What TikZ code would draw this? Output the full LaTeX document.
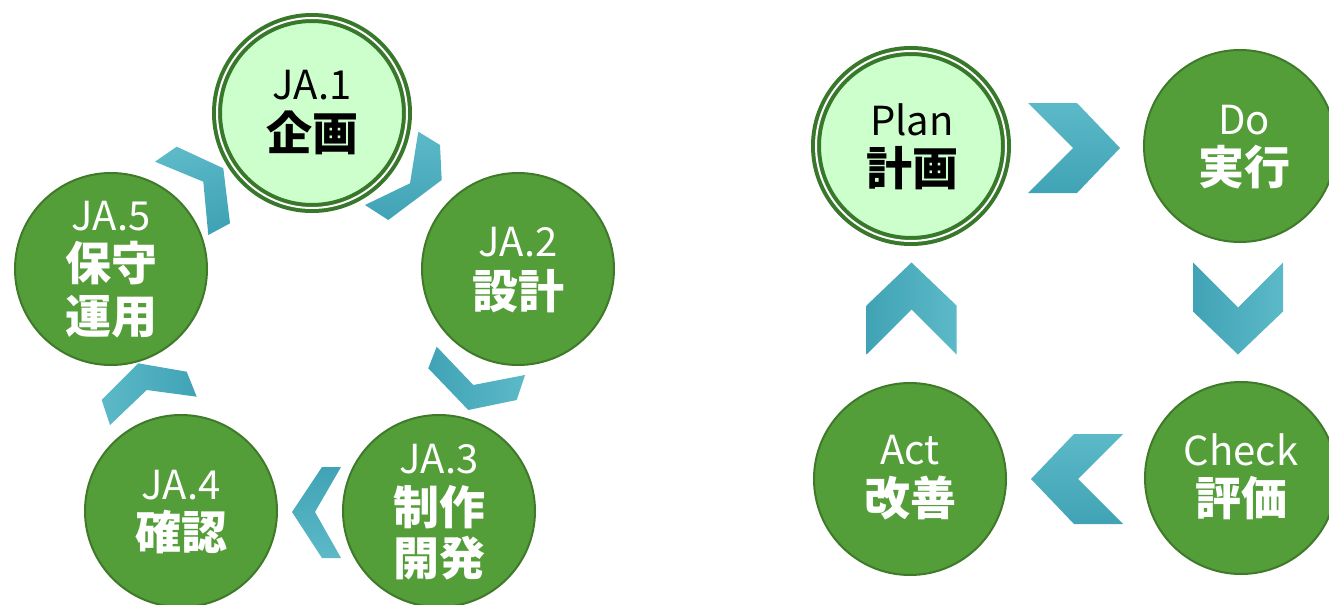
\documentclass[tikz,border=0pt]{standalone}
\usepackage{fontspec}
\setmainfont{Noto Sans CJK JP}
\definecolor{dkgreen}{HTML}{549E39}
\definecolor{edgegreen}{HTML}{3F7A2A}
\definecolor{ringgreen}{HTML}{38782A}
\definecolor{ltgreen}{HTML}{CCFFCC}
\definecolor{tealL}{HTML}{5CB9C8}
\definecolor{tealD}{HTML}{40A3B5}
\newcommand\latf{\fontsize{20}{24}\selectfont}
\newcommand\jpf{\fontsize{23}{27}\selectfont\bfseries}
% large chevron of PDCA: name, cx, cy, direction (screen deg), shading angle
\newcommand\chevL[5]{%
  \path[shift={(#2,#3)}, rotate=-#4, top color=tealL, bottom color=tealD, shading angle=#5]
    (-46,-45) -- (3,-45) -- (46,0) -- (3,45) -- (-46,45) -- (-1,0) -- cycle;
  \coordinate (#1) at (#2,#3);}
\begin{document}
\begin{tikzpicture}[x=0.5pt,y=-0.5pt,
  stage/.style={circle, fill=dkgreen, draw=edgegreen, line width=1pt, minimum size=96pt, inner sep=0pt},
  startstage/.style={circle, fill=ltgreen, draw=ringgreen, line width=2pt, double=white, double distance=1pt, minimum size=95pt, inner sep=0pt},
  lat/.style={inner sep=0pt, text=white, font=\latf},
  jp/.style={inner sep=0pt, text=white, font=\jpf},
  latk/.style={inner sep=0pt, text=black, font=\latf},
  jpk/.style={inner sep=0pt, text=black, font=\jpf},
  chev/.style={top color=tealL, bottom color=tealD}]
\fill[white] (0,0) rectangle (1329,605);
\useasboundingbox (0,0) rectangle (1329,605);

% cycle chevrons
\path[chev, shading angle=0]
  (418.3,131.7) -- (440,145) -- (441.7,180) -- (388.3,220) -- (365,205) -- (410,183.3) -- cycle;
\path[chev, shading angle=270]
  (436.7,346.7) -- (473.3,385) -- (525,375) -- (516.7,400) -- (468.3,410) -- (428.3,368.3) -- cycle;
\path[chev, shading angle=180]
  (341,467) -- (322,467) -- (292,512) -- (322,558) -- (341,558) -- (315,512) -- cycle;
\path[chev, shading angle=90]
  (101.7,400) -- (138.3,363.3) -- (186.7,371.7) -- (196.7,396.7) -- (146.7,390) -- (110,425) -- cycle;
\path[chev, shading angle=20]
  (155,161.7) -- (176.7,146.7) -- (223.3,168.3) -- (230,223.3) -- (208.3,235) -- (203.3,181.7) -- cycle;

% PDCA chevrons
\chevL{pd}{1074}{148}{0}{0}
\chevL{dc}{1238}{308.5}{90}{270}
\chevL{ca}{1077}{479}{180}{0}
\chevL{ap}{911.5}{308.5}{270}{270}

% cycle circles
\node[startstage] (ja1) at (312,113) {};
\node[stage] (ja2) at (518,269) {};
\node[stage] (ja3) at (439,511) {};
\node[stage] (ja4) at (181,511) {};
\node[stage] (ja5) at (111,269) {};

\node[latk] (ja1a) at (312,85) {JA.1};
\node[jpk]  (ja1b) at (312,133) {企画};
\node[lat]  (ja2a) at (518,242) {JA.2};
\node[jp]   (ja2b) at (518,291) {設計};
\node[lat]  (ja3a) at (439,459) {JA.3};
\node[jp]   (ja3b) at (439,507) {制作};
\node[jp]   (ja3c) at (439,558) {開発};
\node[lat]  (ja4a) at (181,485) {JA.4};
\node[jp]   (ja4b) at (181,532) {確認};
\node[lat]  (ja5a) at (111,216) {JA.5};
\node[jp]   (ja5b) at (111,263) {保守};
\node[jp]   (ja5c) at (111,317) {運用};

% PDCA circles
\node[startstage] (plan) at (911,146) {};
\node[stage] (do) at (1240,146) {};
\node[stage] (check) at (1241,478) {};
\node[stage] (act) at (910,479) {};

\node[latk] (plana) at (912,120) {Plan};
\node[jpk]  (planb) at (912,168) {計画};
\node[lat]  (doa) at (1244,120) {Do};
\node[jp]   (dob) at (1244,167) {実行};
\node[lat]  (checka) at (1241,450) {Check};
\node[jp]   (checkb) at (1241,498) {評価};
\node[lat]  (acta) at (910,450) {Act};
\node[jp]   (actb) at (910,498) {改善};
\end{tikzpicture}
\end{document}
